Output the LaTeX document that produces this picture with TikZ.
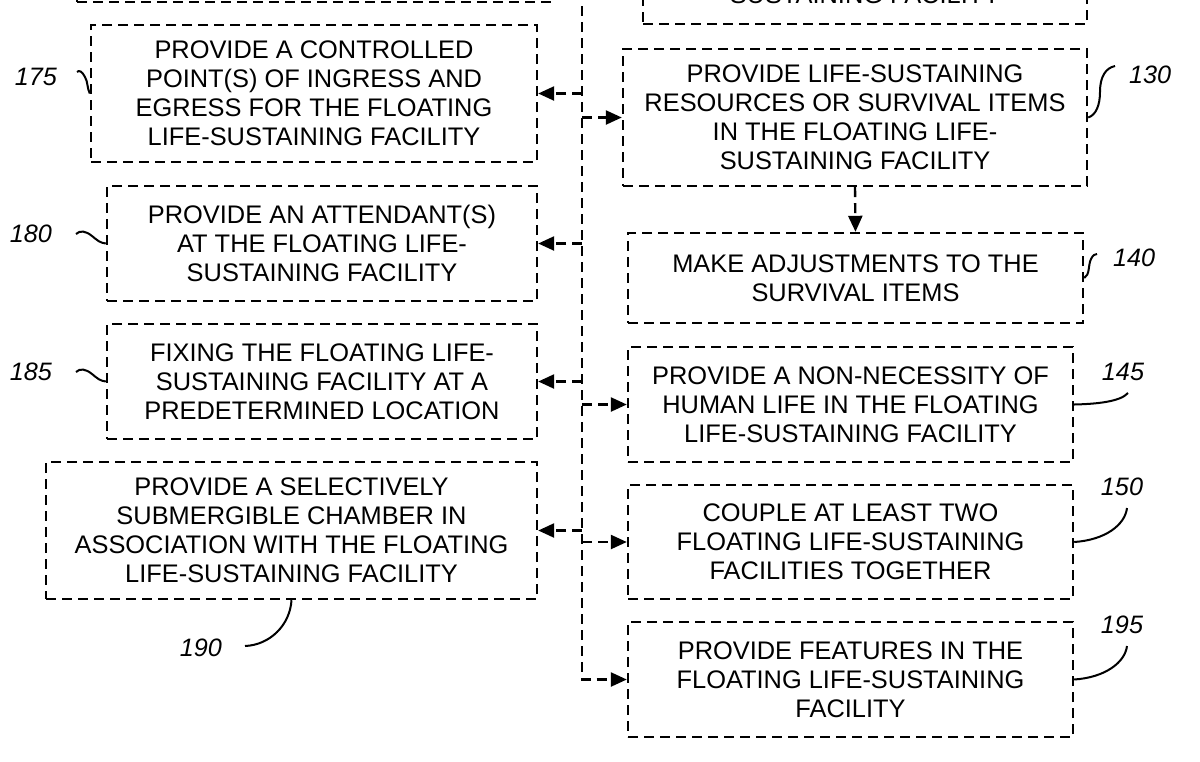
\documentclass[tikz,border=0pt]{standalone}
\usepackage{fontspec}
\setmainfont{Liberation Sans}
\usetikzlibrary{arrows.meta}

\begin{document}
\begin{tikzpicture}[x=0.5pt, y=-0.5pt,
    stepbox/.style={draw, line width=1.2pt, dash pattern=on 5pt off 3pt, align=center, inner sep=0pt,
        font=\fontsize{12.7pt}{14.5pt}\selectfont},
    flow/.style={line width=1.2pt, dash pattern=on 5pt off 3pt, -{Triangle[length=8pt, width=7pt]}},
    refline/.style={line width=1pt},
    reflabel/.style={inner sep=0pt, font=\fontsize{12.6pt}{14pt}\selectfont\itshape}]

    \useasboundingbox (0,0) rectangle (1200,761);
    \clip (0,0) rectangle (1200,761);

    % boxes cut off at the top
    \node[stepbox, minimum width=237.5pt, minimum height=31pt] (nTopL) at (314.5,-29) {};
    \node[stepbox, minimum width=222pt, minimum height=29pt] (nTopR) at (865,-5) {SUSTAINING FACILITY};

    % left column
    \node[stepbox, minimum width=223pt, minimum height=68.5pt] (n175) at (314,93.5)
        {PROVIDE A CONTROLLED\\POINT(S) OF INGRESS AND\\EGRESS FOR THE FLOATING\\LIFE-SUSTAINING FACILITY};
    \node[stepbox, minimum width=215pt, minimum height=57.5pt] (n180) at (322,243.5)
        {PROVIDE AN ATTENDANT(S)\\AT THE FLOATING LIFE-\\SUSTAINING FACILITY};
    \node[stepbox, minimum width=215pt, minimum height=57.5pt] (n185) at (322,381.5)
        {FIXING THE FLOATING LIFE-\\SUSTAINING FACILITY AT A\\PREDETERMINED LOCATION};
    \node[stepbox, minimum width=245.5pt, minimum height=68.5pt] (n190) at (291.5,530.5)
        {PROVIDE A SELECTIVELY\\SUBMERGIBLE CHAMBER IN\\ASSOCIATION WITH THE FLOATING\\LIFE-SUSTAINING FACILITY};

    % right column
    \node[stepbox, minimum width=232pt, minimum height=68.5pt] (n130) at (855,117.5)
        {PROVIDE LIFE-SUSTAINING\\RESOURCES OR SURVIVAL ITEMS\\IN THE FLOATING LIFE-\\SUSTAINING FACILITY};
    \node[stepbox, minimum width=227.5pt, minimum height=45pt] (n140) at (855.5,278)
        {MAKE ADJUSTMENTS TO THE\\SURVIVAL ITEMS};
    \node[stepbox, minimum width=222.5pt, minimum height=57.5pt] (n145) at (850.5,404.5)
        {PROVIDE A NON-NECESSITY OF\\HUMAN LIFE IN THE FLOATING\\LIFE-SUSTAINING FACILITY};
    \node[stepbox, minimum width=222.5pt, minimum height=57pt] (n150) at (850.5,542)
        {COUPLE AT LEAST TWO\\FLOATING LIFE-SUSTAINING\\FACILITIES TOGETHER};
    \node[stepbox, minimum width=222.5pt, minimum height=57.5pt] (n195) at (850.5,679.5)
        {PROVIDE FEATURES IN THE\\FLOATING LIFE-SUSTAINING\\FACILITY};

    % the shared line and its branches
    \coordinate (bus) at (582,-10);
    \draw[flow] (bus) |- (n195.west);
    \draw[flow] (bus |- n175.east) -- (n175.east);
    \draw[flow] (bus |- n130.west) -- (n130.west);
    \draw[flow] (bus |- n180.east) -- (n180.east);
    \draw[flow] (bus |- n185.east) -- (n185.east);
    \draw[flow] (bus |- n145.west) -- (n145.west);
    \draw[flow] (bus |- n190.east) -- (n190.east);
    \draw[flow] (bus |- n150.west) -- (n150.west);
    \draw[flow] (n130.south) -- (n140.north);

    % reference numerals
    \draw[refline] (n175.west) .. controls (87,88) and (88,82) .. (85,77)
        .. controls (82,71) and (79,70) .. (77,72) node[reflabel, anchor=east, xshift=-9.5pt, yshift=-2.5pt] (l175) {175};
    \draw[refline] (n180.west) .. controls (100,243) and (97,240) .. (92,236)
        .. controls (86,231) and (80,230) .. (76,234) node[reflabel, anchor=east, xshift=-11.5pt] (l180) {180};
    \draw[refline] (n185.west) .. controls (100,381) and (97,378) .. (92,374)
        .. controls (86,369) and (80,368) .. (76,372) node[reflabel, anchor=east, xshift=-11.5pt] (l185) {185};
    \draw[refline] (n190.south) .. controls (290,625) and (270,645) .. (245,646)
        node[reflabel, anchor=east, xshift=-11pt, yshift=-1pt] (l190) {190};
    \draw[refline] (n130.east) .. controls (1096,115) and (1100,105) .. (1100,92)
        .. controls (1100,76) and (1106,68) .. (1115,66) node[reflabel, anchor=west, xshift=6.5pt, yshift=-4.5pt] (l130) {130};
    \draw[refline] (n140.east) .. controls (1090,275) and (1088,265) .. (1091,259)
        .. controls (1093,255) and (1095,254) .. (1097,254) node[reflabel, anchor=west, xshift=7.5pt, yshift=-2pt] (l140) {140};
    \draw[refline] (n145.east) .. controls (1095,404) and (1120,402) .. (1128,393)
        node[reflabel, anchor=south, xshift=-2.5pt, yshift=5.75pt] (l145) {145};
    \draw[refline] (n150.east) .. controls (1105,540) and (1125,525) .. (1127,508)
        node[reflabel, anchor=south, xshift=-2.5pt, yshift=5.75pt] (l150) {150};
    \draw[refline] (n195.east) .. controls (1105,677.5) and (1125,662.5) .. (1127,646)
        node[reflabel, anchor=south, xshift=-2.5pt, yshift=5.75pt] (l195) {195};
\end{tikzpicture}
\end{document}
